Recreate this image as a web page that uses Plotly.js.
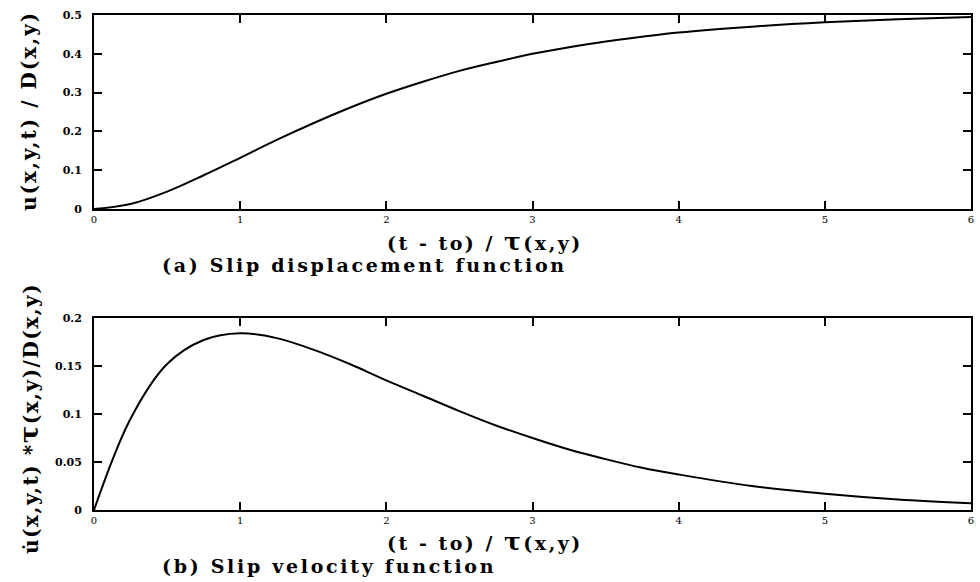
<!DOCTYPE html>
<html>
<head>
<meta charset="utf-8">
<script src="https://cdn.plot.ly/plotly-3.0.1.min.js"></script>
<style>html,body{margin:0;padding:0;background:#fff;}#chart{width:980px;height:582px;}</style>
</head>
<body>
<div id="chart"></div>
<script>
// Time axis, normalized (t - to) / tau(x,y)
const tValues = [0, 0.25, 0.5, 0.75, 1, 1.25, 1.5, 1.75, 2, 2.25, 2.5, 2.75, 3, 3.25, 3.5, 3.75, 4, 4.5, 5, 5.5, 6];
// (a) Slip displacement u/D
const slipDisplacement = [0, 0.013, 0.045, 0.087, 0.132, 0.178, 0.221, 0.261, 0.297, 0.328, 0.356, 0.379, 0.400, 0.417, 0.432, 0.444, 0.455, 0.470, 0.481, 0.489, 0.495];
// (b) Slip velocity u' * tau / D
const slipVelocity = [0, 0.095, 0.152, 0.177, 0.184, 0.179, 0.167, 0.152, 0.135, 0.119, 0.103, 0.088, 0.075, 0.063, 0.053, 0.044, 0.037, 0.025, 0.017, 0.011, 0.007];
const xTicks = [0, 1, 2, 3, 4, 5, 6];
const yTicksTop = [0, 0.1, 0.2, 0.3, 0.4, 0.5];
const yTicksBottom = [0, 0.05, 0.1, 0.15, 0.2];

const serif = "DejaVu Serif, Liberation Serif, serif";

const traces = [
  {x: tValues, y: slipDisplacement, xaxis: 'x', yaxis: 'y', mode: 'lines',
   line: {color: '#000', width: 2, shape: 'spline'}, showlegend: false, hoverinfo: 'skip'},
  {x: tValues, y: slipVelocity, xaxis: 'x2', yaxis: 'y2', mode: 'lines',
   line: {color: '#000', width: 2, shape: 'spline'}, showlegend: false, hoverinfo: 'skip'}
];

function xAx(anchor) {
  return {
    anchor: anchor, domain: [0, 1], range: [0, 6], tickvals: xTicks,
    ticks: 'inside', ticklen: 8, tickwidth: 2, tickcolor: '#000',
    showline: true, linecolor: '#000', linewidth: 2, mirror: 'ticks',
    showgrid: false, zeroline: false,
    tickfont: {family: serif, size: 10, color: '#000'}
  };
}
function yAx(anchor, dom, range, vals) {
  return {
    anchor: anchor, domain: dom, range: range, tickvals: vals,
    ticks: 'inside', ticklen: 8, tickwidth: 2, tickcolor: '#000',
    showline: true, linecolor: '#000', linewidth: 2, mirror: 'ticks',
    showgrid: false, zeroline: false, ticklabelstandoff: 8,
    tickfont: {family: serif, size: 11, color: '#000', weight: 'bold'}
  };
}

const sp = (s, ls) => '<span style="letter-spacing:' + ls + 'px">' + s + '</span>';
const tau = '<span style="font-size:25px">τ</span>';
const titleFont = {family: serif, size: 19, color: '#000', weight: 'bold'};
const yTitleFont = {family: serif, size: 20, color: '#000', weight: 'bold'};

const layout = {
  width: 980, height: 582,
  margin: {l: 94, r: 9, t: 15, b: 72},
  paper_bgcolor: '#fff', plot_bgcolor: '#fff',
  xaxis: xAx('y'),
  yaxis: yAx('x', [0.608, 1], [0, 0.5], yTicksTop),
  xaxis2: xAx('y2'),
  yaxis2: yAx('x2', [0, 0.388], [0, 0.2], yTicksBottom),
  annotations: [
    {text: sp('(t - to) / ' + tau + '(x,y)', 2.5), xref: 'paper', yref: 'paper',
     x: (385 - 94) / 877, y: (510 - 242) / 495, xanchor: 'left', yanchor: 'middle', showarrow: false,
     font: titleFont},
    {text: sp('(a) Slip displacement function', 2.7), xref: 'paper', yref: 'paper',
     x: (160 - 94) / 877, y: (510 - 265) / 495, xanchor: 'left', yanchor: 'middle', showarrow: false,
     font: titleFont},
    {text: sp('(t - to) / ' + tau + '(x,y)', 2.5), xref: 'paper', yref: 'paper',
     x: (385 - 94) / 877, y: (510 - 541) / 495, xanchor: 'left', yanchor: 'middle', showarrow: false,
     font: titleFont},
    {text: sp('(b) Slip velocity function', 2.7), xref: 'paper', yref: 'paper',
     x: (160 - 94) / 877, y: (510 - 566) / 495, xanchor: 'left', yanchor: 'middle', showarrow: false,
     font: titleFont},
    {text: sp('u(x,y,t) / D(x,y)', 2), xref: 'paper', yref: 'paper', textangle: -90,
     x: (29 - 94) / 877, y: (510 - 111) / 495, xanchor: 'center', yanchor: 'middle', showarrow: false,
     font: yTitleFont},
    {text: sp('u̇(x,y,t) *<span style="font-size:26px">τ</span>(x,y)/D(x,y)', 1.5), xref: 'paper', yref: 'paper', textangle: -90,
     x: (29 - 94) / 877, y: (510 - 419) / 495, xanchor: 'center', yanchor: 'middle', showarrow: false,
     font: yTitleFont}
  ]
};

Plotly.newPlot('chart', traces, layout, {staticPlot: true, displayModeBar: false});
</script>
</body>
</html>
